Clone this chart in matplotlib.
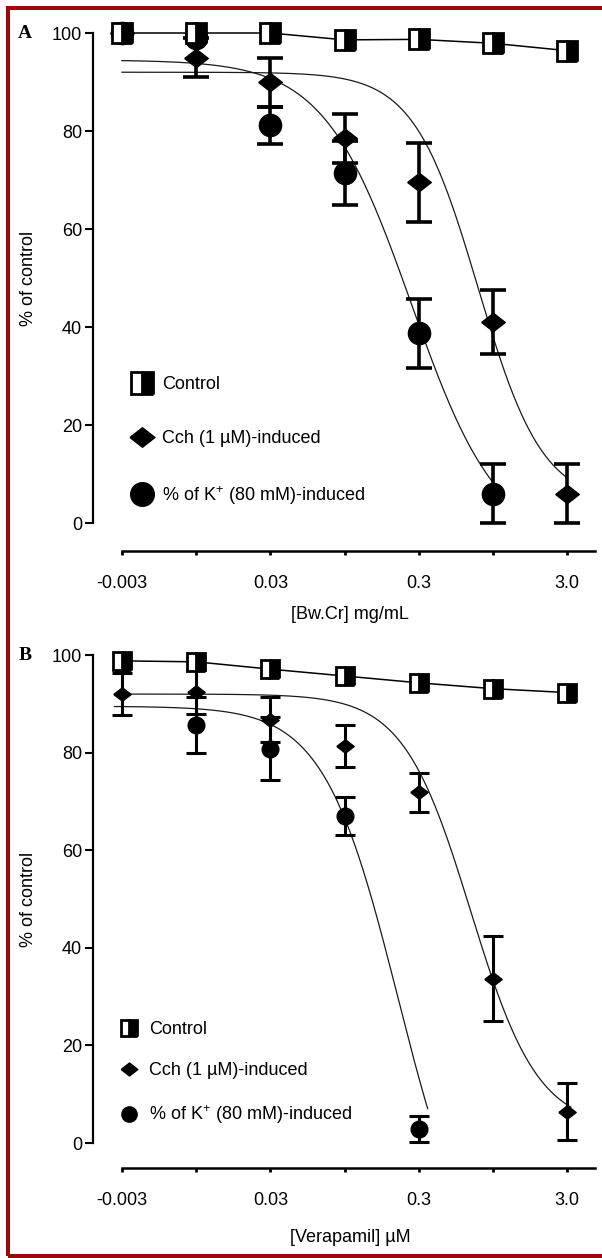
import numpy as np
import matplotlib
matplotlib.use('Agg')
import matplotlib.pyplot as plt
from matplotlib.lines import Line2D
from matplotlib.patches import Rectangle

plt.rcParams['font.family'] = ['Liberation Sans', 'DejaVu Sans']
plt.rcParams['mathtext.fontset'] = 'custom'
plt.rcParams['mathtext.rm'] = 'Liberation Sans'
plt.rcParams['mathtext.it'] = 'Liberation Sans:italic'

# ---------------- data ----------------
DOSE_POS = [0, 1, 2, 3, 4, 5, 6]
TICK_LABELS = ['-0.003', '', '0.03', '', '0.3', '', '3.0']
YTICKS = [0, 20, 40, 60, 80, 100]
LEGEND_LABELS = ['Control', 'Cch (1 µM)-induced', '% of K$^{+}$ (80 mM)-induced']

# Panel A  [Bw.Cr] mg/mL
A_CONTROL = [100, 100, 100, 98.6, 98.7, 97.9, 96.4]
A_CCH = [100, 95, 90, 78.5, 69.5, 41, 6]
A_CCH_ERR = [np.nan, 4, 5, 5, 8, 6.6, 6]
A_K = [100, 99, 81.2, 71.5, 38.7, 6, np.nan]
A_K_ERR = [np.nan, np.nan, 3.8, 6.5, 7, 6, np.nan]
# fitted curves: top, bottom, x50 (dose position), slope
A_CCH_FIT = [92, 4, 4.8, 2.3]
A_K_FIT = [94.5, -5, 3.9, 1.7]
A_CCH_FIT_RANGE = [0, 6]
A_K_FIT_RANGE = [0, 5.05]

# Panel B  [Verapamil] µM
B_CONTROL = [98.8, 98.6, 97.1, 95.7, 94.3, 93.1, 92.3]
B_CCH = [92, 92.5, 86.7, 81.3, 71.9, 33.7, 6.4]
B_CCH_ERR = [4.3, 4.5, 4.6, 4.3, 4, 8.8, 5.8]
B_K = [98, 85.7, 80.8, 67, 2.9, np.nan, np.nan]
B_K_ERR = [np.nan, 5.7, 6.4, 3.9, 2.6, np.nan, np.nan]
B_CCH_FIT = [92, 3, 4.7, 2.2]
B_K_FIT = [89.5, -30, 3.72, 2.0]
B_CCH_FIT_RANGE = [-0.1, 6.05]
B_K_FIT_RANGE = [-0.1, 4.12]

XLABEL_A = '[Bw.Cr] mg/mL'
XLABEL_B = '[Verapamil] µM'
YLABEL = '% of control'

# ---------------- figure ----------------
W, H = 602, 1258
fig = plt.figure(figsize=(W / 100, H / 100), dpi=100)
PX = 0.72  # points per pixel


def logistic(x, p):
    top, bottom, x50, k = p
    return bottom + (top - bottom) / (1 + np.exp(k * (x - x50)))


DIAMOND = [(-1, 0), (0, 0.78), (1, 0), (0, -0.78), (-1, 0)]
XLIM = (-0.39, 6.375)
FS = 13


def panel(rect_px, ylim, control, cch, cch_err, kk, kk_err, fit_c, rng_c, fit_k, rng_k,
          xlabel, ms, err_lw, capsize, leg_anchor, leg_spacing, leg_ms, xlabel_y):
    l, t, r, b = rect_px
    ax = fig.add_axes([l / W, 1 - b / H, (r - l) / W, (b - t) / H])
    ax.set_xlim(*XLIM)
    ax.set_ylim(*ylim)
    x = np.array(DOSE_POS, dtype=float)

    # fitted curves
    for p, rg in ((fit_c, rng_c), (fit_k, rng_k)):
        xs = np.linspace(rg[0], rg[1], 300)
        ax.plot(xs, logistic(xs, p), color='#1a1a1a', lw=0.9, zorder=2)

    ms_sq, ms_d, ms_o = ms
    ax.errorbar(x, kk, yerr=kk_err, fmt='o', ms=ms_o, color='black', ecolor='black',
                elinewidth=err_lw, capsize=capsize, capthick=err_lw, zorder=3)
    ax.errorbar(x, cch, yerr=cch_err, fmt='none', ecolor='black',
                elinewidth=err_lw, capsize=capsize, capthick=err_lw, zorder=4)
    ax.plot(x, cch, ls='none', marker=DIAMOND, ms=ms_d, color='black', zorder=4)
    ax.plot(x, control, '-', color='black', lw=1.1, marker='s', ms=ms_sq,
            mfc='black', mfcalt='white', fillstyle='right', mec='black', mew=2.0,
            zorder=5)

    # axes styling
    for s in ('top', 'right'):
        ax.spines[s].set_visible(False)
    ax.spines['left'].set_bounds(0, 100)
    ax.spines['bottom'].set_bounds(0, XLIM[1])
    ax.spines['left'].set_linewidth(1.6)
    ax.spines['bottom'].set_linewidth(1.8)
    ax.set_yticks(YTICKS)
    ax.set_xticks(DOSE_POS)
    ax.set_xticklabels(TICK_LABELS)
    ax.tick_params(axis='y', direction='out', length=6, width=1.5, labelsize=FS, pad=2)
    ax.tick_params(axis='x', direction='out', length=3, width=2, labelsize=FS, pad=14)
    ax.set_xlabel(xlabel, fontsize=FS)
    ax.xaxis.set_label_coords((350 - l) / (r - l), xlabel_y)
    ax.set_ylabel(YLABEL, fontsize=FS)
    ax.yaxis.set_label_coords((37 - l) / (r - l), (50 - ylim[0]) / (ylim[1] - ylim[0]))

    # legend
    lsq, ld, lo = leg_ms
    handles = [
        Line2D([], [], ls='none', marker='s', ms=lsq, mfc='black', mfcalt='white',
               fillstyle='right', mec='black', mew=2.0),
        Line2D([], [], ls='none', marker=DIAMOND, ms=ld, color='black'),
        Line2D([], [], ls='none', marker='o', ms=lo, color='black'),
    ]
    ax.legend(handles, LEGEND_LABELS, loc='upper left', bbox_to_anchor=leg_anchor,
              frameon=False, fontsize=FS, handlelength=1.0, handletextpad=0.62,
              labelspacing=leg_spacing, borderpad=0, borderaxespad=0)
    return ax


# panel A geometry: y=0 at 523px, y=100 at 33px ; x-axis line at 551px
A_top = 523 - 104 * 4.9
axA = panel((93, A_top, 595, 551), (-5.7, 104), A_CONTROL, A_CCH, A_CCH_ERR, A_K, A_K_ERR,
            A_CCH_FIT, A_CCH_FIT_RANGE, A_K_FIT, A_K_FIT_RANGE, XLABEL_A,
            ms=(14, 17, 16), err_lw=2.6, capsize=9.5,
            leg_anchor=((133 - 93) / 502, (551 - 376) / (551 - A_top)), leg_spacing=2.05,
            leg_ms=(16, 18, 17), xlabel_y=-(606 - 551) / (551 - A_top))

# panel B geometry: y=0 at 1143px, y=100 at 655px ; x-axis line at 1168px
B_top = 1143 - 104 * 4.88
axB = panel((93, B_top, 595, 1168), (-5.12, 104), B_CONTROL, B_CCH, B_CCH_ERR, B_K, B_K_ERR,
            B_CCH_FIT, B_CCH_FIT_RANGE, B_K_FIT, B_K_FIT_RANGE, XLABEL_B,
            ms=(13.5, 12.5, 12), err_lw=2.2, capsize=7.2,
            leg_anchor=((120 - 93) / 502, (1168 - 1021) / (1168 - B_top)), leg_spacing=1.35,
            leg_ms=(12, 12, 11), xlabel_y=-(1229 - 1168) / (1168 - B_top))

# panel letters
fig.text(25 / W, 1 - 33 / H, 'A', fontfamily='Liberation Serif', fontweight='bold',
         fontsize=14, ha='center', va='center')
fig.text(25 / W, 1 - 655 / H, 'B', fontfamily='Liberation Serif', fontweight='bold',
         fontsize=14, ha='center', va='center')

# dark red frame
fig.patches.append(Rectangle((8 / W, 1 - 1256 / H), (606 - 8) / W, (1256 - 8) / H,
                             transform=fig.transFigure, fill=False, edgecolor='#9a0a0a',
                             linewidth=4 * PX, zorder=10))

fig.savefig('out.png', dpi=100)
